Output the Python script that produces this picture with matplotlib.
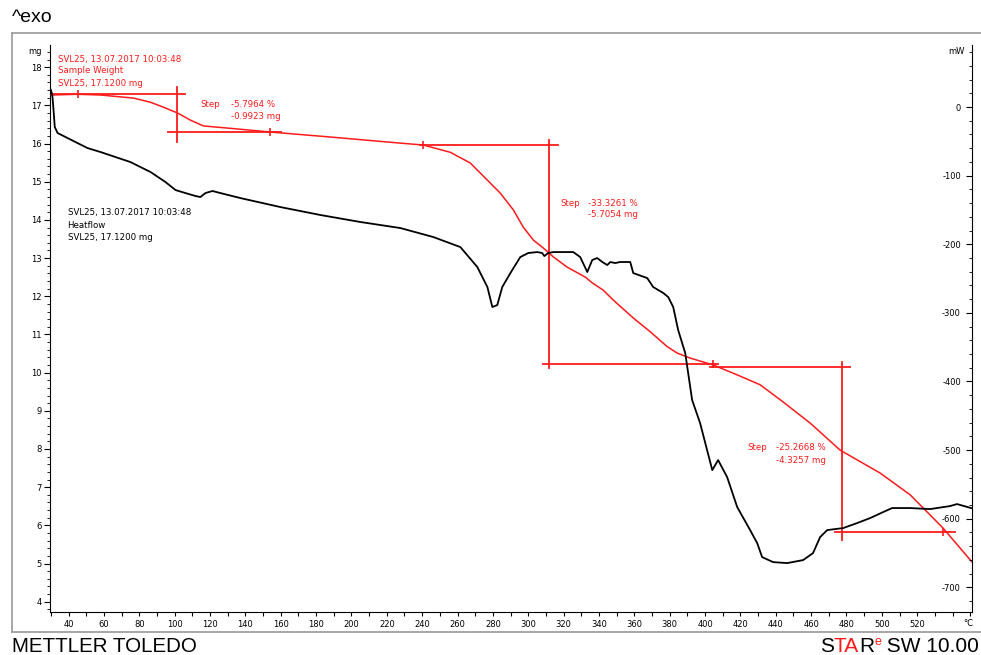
import matplotlib.pyplot as plt
from matplotlib.lines import Line2D
from matplotlib.ticker import MultipleLocator

plt.rcParams['axes.unicode_minus'] = False
plt.rcParams['font.family'] = 'DejaVu Sans'

# heat flow curve (black, right axis, mW)
hf_temp = [30.0, 30.8, 31.5, 32.2, 33.8, 39.4, 50.7, 58.1, 75.0, 86.4, 94.8, 100.5,
           106.1, 111.8, 114.6, 117.4, 121.4, 125.9, 137.2, 159.8, 182.5, 205.1, 227.7,
           246.3, 261.6, 271.2, 276.9, 279.7, 282.5, 285.3, 289.9, 295.5, 300.0, 305.1,
           307.9, 309.1, 311.3, 314.2, 325.5, 329.4, 333.4, 336.2, 339.0, 341.9, 344.7,
           346.4, 349.2, 352.0, 357.7, 359.4, 367.3, 370.7, 376.4, 379.2, 382.0, 384.8,
           388.8, 392.7, 397.2, 404.1, 407.4, 412.5, 418.2, 425.5, 429.5, 432.3, 438.5,
           446.5, 455.5, 461.1, 465.1, 469.1, 478.1, 486.0, 493.4, 500.7, 505.8, 516.0,
           527.3, 538.6, 542.5, 550.5]
hf_mw = [24.8, 17.5, -4.4, -29.2, -37.9, -45.2, -59.8, -65.6, -80.2, -94.8, -109.3, -121.0,
         -125.4, -129.7, -131.2, -125.4, -122.4, -125.4, -132.7, -145.8, -157.4, -167.6, -176.4,
         -189.5, -204.1, -233.2, -262.4, -291.5, -288.6, -262.4, -242.0, -218.7, -212.8, -211.4,
         -212.8, -217.2, -212.8, -211.4, -211.4, -218.7, -240.5, -223.0, -220.1, -225.9, -230.3,
         -225.9, -227.4, -225.9, -225.9, -242.0, -249.3, -262.4, -271.1, -277.0, -291.5, -325.1,
         -358.6, -427.1, -460.6, -529.2, -514.6, -539.4, -583.1, -616.6, -635.6, -656.0, -663.3,
         -664.7, -660.3, -650.1, -626.8, -616.6, -613.7, -606.4, -599.1, -590.4, -584.5, -584.5,
         -586.0, -581.6, -578.7, -584.5]

# sample weight curve (red, left axis, mg)
tg_temp = [30.3, 45.1, 58.1, 76.7, 86.4, 93.7, 101.6, 109.0, 116.3, 133.3, 154.2, 188.1,
           227.7, 240.7, 255.9, 267.2, 276.9, 284.2, 291.6, 297.2, 302.9, 308.6, 314.2,
           322.1, 332.3, 336.2, 342.4, 348.1, 359.4, 369.0, 378.6, 384.3, 391.6, 404.6,
           418.2, 431.2, 444.2, 459.4, 476.4, 499.0, 516.0, 534.6, 551.0]
tg_mg = [17.27, 17.29, 17.27, 17.19, 17.08, 16.95, 16.80, 16.61, 16.46, 16.39, 16.30, 16.17,
         16.01, 15.96, 15.77, 15.49, 15.04, 14.70, 14.26, 13.81, 13.47, 13.26, 13.03,
         12.76, 12.50, 12.35, 12.16, 11.90, 11.43, 11.07, 10.68, 10.51, 10.38, 10.20,
         9.94, 9.68, 9.23, 8.68, 7.97, 7.37, 6.80, 5.93, 5.04]

# step evaluations
step_temp = [101.6, 311.9, 477.5]
step_hi = [17.29, 15.96, 10.15]
step_lo = [16.30, 10.23, 5.83]
step_vert = [(17.48, 16.04), (16.09, 10.12), (10.28, 5.62)]
hi_span = [(29.5, 106.0), (239.0, 317.0), (403.0, 482.0)]
lo_span = [(96.5, 160.0), (308.5, 407.5), (473.6, 541.4)]
step_pct = ['-5.7964 %', '-33.3261 %', '-25.2668 %']
step_mass = ['-0.9923 mg', '-5.7054 mg', '-4.3257 mg']
step_label_t = [114.6, 318.1, 423.8]
step_value_t = [131.6, 334.0, 440.2]
step_label_mg = [(17.03, 16.72), (14.44, 14.13), (8.03, 7.71)]
limit_temp = [45.1, 154.2, 240.7, 404.6, 534.6]
limit_mg = [17.29, 16.30, 15.96, 10.23, 5.83]

red = '#ff1a1a'
W, H = 981, 655
fig = plt.figure(figsize=(W / 100, H / 100), dpi=100)
ax = fig.add_axes([50 / W, 1 - 612 / H, 922 / W, 567 / H])
ax2 = ax.twinx()

ax.plot(tg_temp, tg_mg, color=red, lw=1.1, zorder=3)
ax2.plot(hf_temp, hf_mw, color='black', lw=1.3)

for i in range(3):
    ax.plot(hi_span[i], [step_hi[i]] * 2, color=red, lw=1.3)
    ax.plot(lo_span[i], [step_lo[i]] * 2, color=red, lw=1.3)
    ax.plot([step_temp[i]] * 2, step_vert[i], color=red, lw=1.3)
    ax.text(step_label_t[i], step_label_mg[i][0], 'Step', color=red, fontsize=6.2, va='center')
    ax.text(step_value_t[i], step_label_mg[i][0], step_pct[i], color=red, fontsize=6.2, va='center')
    ax.text(step_value_t[i], step_label_mg[i][1], step_mass[i], color=red, fontsize=6.2, va='center')
ax.plot(limit_temp, limit_mg, ls='none', marker='|', ms=6, mew=1.2, color=red)

ax.text(33.8, 18.21, 'SVL25, 13.07.2017 10:03:48', color=red, fontsize=6.2, va='center')
ax.text(33.8, 17.90, 'Sample Weight', color=red, fontsize=6.2, va='center')
ax.text(33.8, 17.58, 'SVL25, 17.1200 mg', color=red, fontsize=6.2, va='center')
ax.text(39.4, 14.18, 'SVL25, 13.07.2017 10:03:48', color='black', fontsize=6.2, va='center')
ax.text(39.4, 13.86, 'Heatflow', color='black', fontsize=6.2, va='center')
ax.text(39.4, 13.55, 'SVL25, 17.1200 mg', color='black', fontsize=6.2, va='center')

ax.set_xlim(29.5, 551)
ax.set_ylim(3.73, 18.58)
ax2.set_ylim(-736, 90.4)

ax.xaxis.set_minor_locator(MultipleLocator(10))
ax.set_xticks(range(40, 521, 20))
ax.yaxis.set_major_locator(MultipleLocator(1))
ax.yaxis.set_minor_locator(MultipleLocator(0.2))
ax2.set_yticks(range(-700, 1, 100))
ax2.yaxis.set_minor_locator(MultipleLocator(20))

for a in (ax, ax2):
    a.spines['top'].set_visible(False)
ax.spines['right'].set_visible(False)
ax2.spines['left'].set_visible(False)
ax2.spines['bottom'].set_visible(False)

ax.tick_params(axis='x', which='both', direction='out', length=3, width=0.8, labelsize=6, pad=3)
ax.tick_params(axis='y', which='major', direction='out', length=4, width=0.8, labelsize=6, pad=2)
ax.tick_params(axis='y', which='minor', direction='out', length=2.5, width=0.6)
ax2.tick_params(axis='y', which='major', direction='in', length=4, width=0.8, labelsize=6, pad=-8)
ax2.tick_params(axis='y', which='minor', direction='in', length=2.5, width=0.6)
for lab in ax2.get_yticklabels():
    lab.set_horizontalalignment('right')

fig.text(42 / W, 1 - 51 / H, 'mg', fontsize=6, ha='right', va='center')
fig.text(965 / W, 1 - 52 / H, 'mW', fontsize=6, ha='right', va='center')
fig.text(968 / W, 1 - 623 / H, '°C', fontsize=6, ha='center', va='center')

# outer frame
frame = dict(color='#a0a0a0', lw=1.3, transform=fig.transFigure)
fig.add_artist(Line2D([12 / W, 1], [1 - 33 / H] * 2, **frame))
fig.add_artist(Line2D([12 / W] * 2, [1 - 33 / H, 1 - 632 / H], **frame))
fig.add_artist(Line2D([12 / W, 1], [1 - 632 / H] * 2, **frame))

fig.text(12 / W, 1 - 18 / H, '^exo', fontsize=14, family='Liberation Sans', va='center')
fig.text(12 / W, 1 - 647 / H, 'METTLER TOLEDO', fontsize=14.8, family='Liberation Sans', va='center')

# STARe SW 10.00, drawn piece by piece
pieces = [('S', 'black', 15, 0), ('TA', red, 15, 0), ('R', 'black', 15, 0),
          ('e', red, 9, 5), (' SW 10.00', 'black', 15, 0)]
fig.canvas.draw()
renderer = fig.canvas.get_renderer()
x = 820
for txt, col, size, dy in pieces:
    t = fig.text(x / W, 1 - (647 - dy) / H, txt, color=col, fontsize=size,
                 family='Liberation Sans', va='center')
    x += t.get_window_extent(renderer).width

fig.savefig('out.png', dpi=100)
